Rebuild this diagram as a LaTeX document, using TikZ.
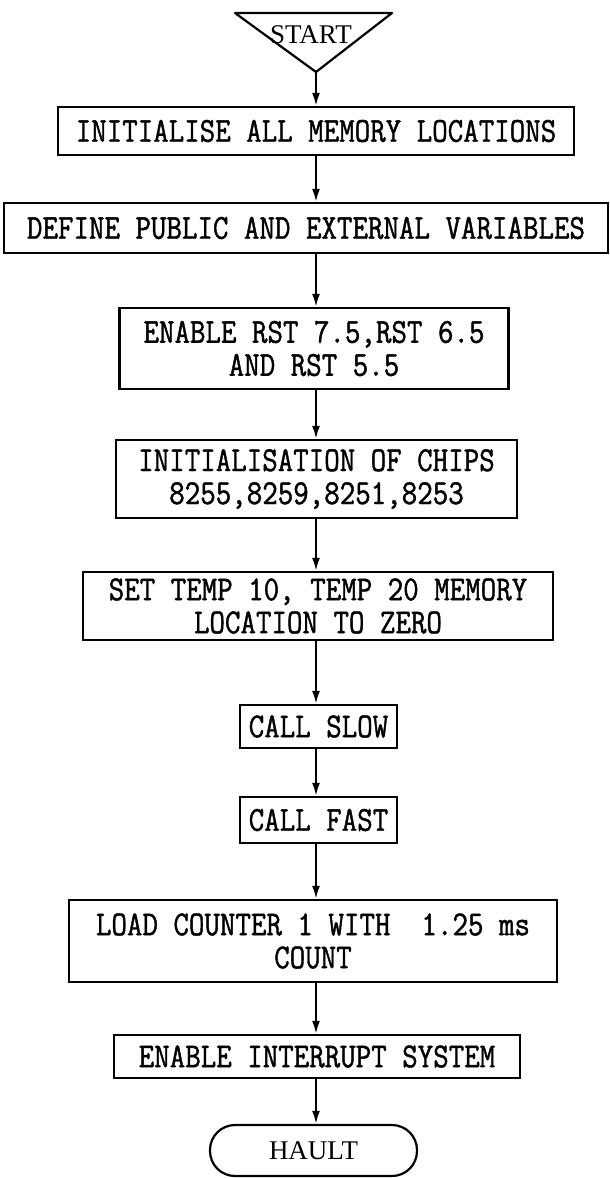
\documentclass[tikz,border=0pt]{standalone}
\usepackage{fontspec}
\setmonofont{Latin Modern Mono}[FakeStretch=0.86,FakeBold=1.2]
\newfontfamily\termfont{Liberation Serif}
\usepackage{tikz}
\usetikzlibrary{arrows.meta}

\begin{document}
\begin{tikzpicture}[x=1pt,y=-1pt,line width=2.2pt,
  box/.style={draw,rectangle,inner sep=0pt,align=center,font=\fontsize{35}{33}\selectfont\ttfamily},
  term/.style={draw,rectangle,rounded corners=25pt,inner sep=0pt,font=\fontsize{27}{27}\selectfont\termfont},
  flow/.style={-{Latex[length=13pt,width=8pt]},line width=2.2pt}]
\useasboundingbox (0,0) rectangle (610,1178);

% start
\draw[line join=round] (235,13) -- (392,13) -- (316,72) -- cycle;
\coordinate (apex) at (316,72);
\node[font=\fontsize{27}{27}\selectfont\termfont] (start) at (311,35) {START};

\node[box,minimum width=516pt,minimum height=48pt] (b1) at (316,131) {INITIALISE ALL MEMORY LOCATIONS};
\node[box,minimum width=604pt,minimum height=50pt] (b2) at (306,228) {DEFINE PUBLIC AND EXTERNAL VARIABLES};
\node[box,minimum width=389pt,minimum height=81pt] (b3) at (314,348.5) {ENABLE RST 7.5,RST 6.5\\AND RST 5.5};
\node[box,minimum width=401pt,minimum height=78pt] (b4) at (316.5,479) {INITIALISATION OF CHIPS\\8255,8259,8251,8253};
\node[box,minimum width=470pt,minimum height=68pt] (b5) at (318,606) {SET TEMP 10, TEMP 20 MEMORY\\LOCATION TO ZERO};
\node[box,minimum width=157pt,minimum height=43pt] (slow) at (318.5,726.5) {CALL SLOW};
\node[box,minimum width=157pt,minimum height=46pt] (fast) at (318.5,820) {CALL FAST};
\node[box,minimum width=488pt,minimum height=82pt] (b8) at (313,941) {LOAD COUNTER 1 WITH~ 1.25 ms\\COUNT};
\node[box,minimum width=406pt,minimum height=43pt] (b9) at (317,1056.5) {ENABLE INTERRUPT SYSTEM};
\node[term,minimum width=207pt,minimum height=51pt] (hault) at (313.5,1150.5) {HAULT};

% arrows
\draw[flow] (apex) -- (apex |- b1.north);
\draw[flow] (b1.south) -- (b1.south |- b2.north);
\draw[flow] (b1.south |- b2.south) -- (b1.south |- b3.north);
\draw[flow] (b1.south |- b3.south) -- (b1.south |- b4.north);
\draw[flow] (b1.south |- b4.south) -- (b1.south |- b5.north);
\draw[flow] (b1.south |- b5.south) -- (b1.south |- slow.north);
\draw[flow] (b1.south |- slow.south) -- (b1.south |- fast.north);
\draw[flow] (b1.south |- fast.south) -- (b1.south |- b8.north);
\draw[flow] (b1.south |- b8.south) -- (b1.south |- b9.north);
\draw[flow] (b1.south |- b9.south) -- (b1.south |- hault.north);

\end{tikzpicture}
\end{document}
